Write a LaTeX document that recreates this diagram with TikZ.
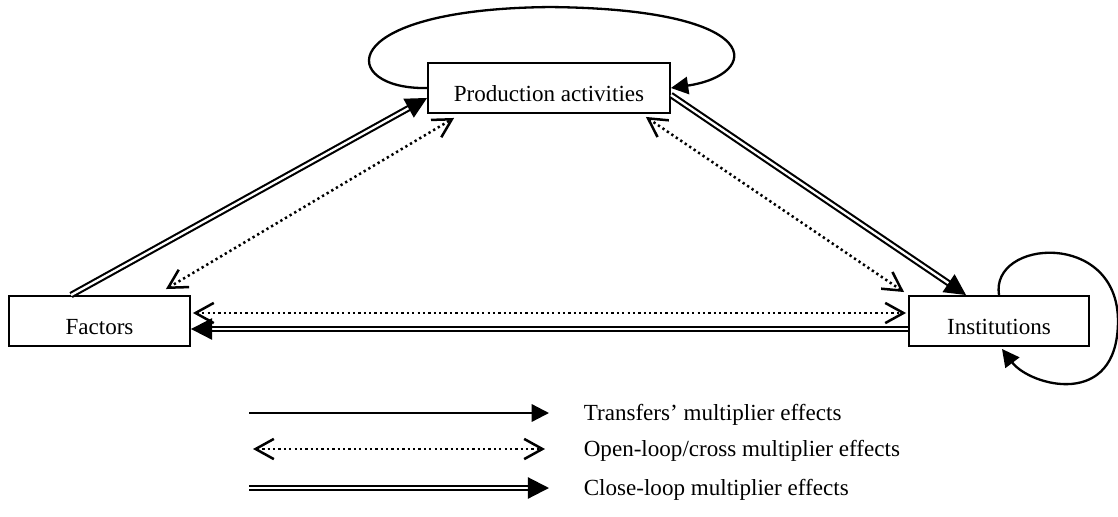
\documentclass[tikz,border=0pt]{standalone}
\usepackage{fontspec}
\setmainfont{Liberation Serif}
\usetikzlibrary{arrows.meta,calc}

\begin{document}
\begin{tikzpicture}[
    x=0.52pt, y=-0.52pt,
    font=\fontsize{12}{14}\selectfont,
    sector/.style={draw, line width=1pt, minimum height=26pt, inner sep=0pt,
        text height=1.7em, text depth=0.25em},
    transfer/.style={line width=1.2pt, -{Triangle[length=9pt, width=9pt]}},
    openloop/.style={line width=1.3pt, dash pattern=on 1.2pt off 1.6pt,
        {Straight Barb[length=9.5pt, width=10.5pt, line width=1.3pt]}-{Straight Barb[length=9.5pt, width=10.5pt, line width=1.3pt]}},
    closeloop/.style={double, line width=1.1pt, double distance=1.2pt,
        -{Triangle[length=11pt, width=11pt]}}
]

    \useasboundingbox (0,0) rectangle (1118,516);

    % Accounts
    \node[sector, minimum width=125.8pt] (prod) at (549,88)  {Production activities};
    \node[sector, minimum width=94.1pt]  (fac)  at (99.5,321) {Factors};
    \node[sector, minimum width=93.6pt]  (inst) at (999,321) {Institutions};

    % Close-loop effects
    \draw[closeloop] ($(fac.north west)+(63,0)$) -- ($(prod.south west)+(0,-16)$);
    \draw[closeloop] ($(prod.east)+(0,7)$) -- ($(inst.north west)+(58,0)$);
    \draw[closeloop] ($(inst.west)+(0,8)$) -- ($(fac.east)+(0,8)$);

    % Open-loop/cross effects
    \draw[openloop] ($(fac.north east)+(-25,-6)$) -- ($(prod.south west)+(27,4)$);
    \draw[openloop] ($(prod.south east)+(-25,3)$) -- ($(inst.north west)+(-4,-3)$);
    \draw[openloop] ($(fac.east)+(2,-8)$) -- ($(inst.west)+(-2,-8)$);

    % Transfers (own loops)
    \draw[transfer] (prod.west) .. controls +(-88,2) and +(-220,2) .. ($(prod.north)+(1,-55)$)
        .. controls +(220,2) and +(90,-13) .. (prod.east);
    \draw[transfer] (inst.north) .. controls +(-9,-56) and +(0,-91) .. ($(inst.east)+(28,0)$)
        .. controls +(0,89) and +(28,37) .. ($(inst.south)+(3,2)$);

    % Legend
    \coordinate (t0) at (249,413);
    \coordinate (t1) at (549,413);
    \coordinate (o0) at (253,449);
    \coordinate (o1) at (545,449);
    \coordinate (c0) at (249,488);
    \coordinate (c1) at (549,488);
    \draw[transfer]  (t0) -- (t1);
    \draw[openloop]  (o0) -- (o1);
    \draw[closeloop] (c0) -- (c1);
    \node[anchor=west] (ttext) at (577,415) {Transfers’ multiplier effects};
    \node[anchor=west] (otext) at (577,451) {Open-loop/cross multiplier effects};
    \node[anchor=west] (ctext) at (577,490) {Close-loop multiplier effects};

\end{tikzpicture}
\end{document}
